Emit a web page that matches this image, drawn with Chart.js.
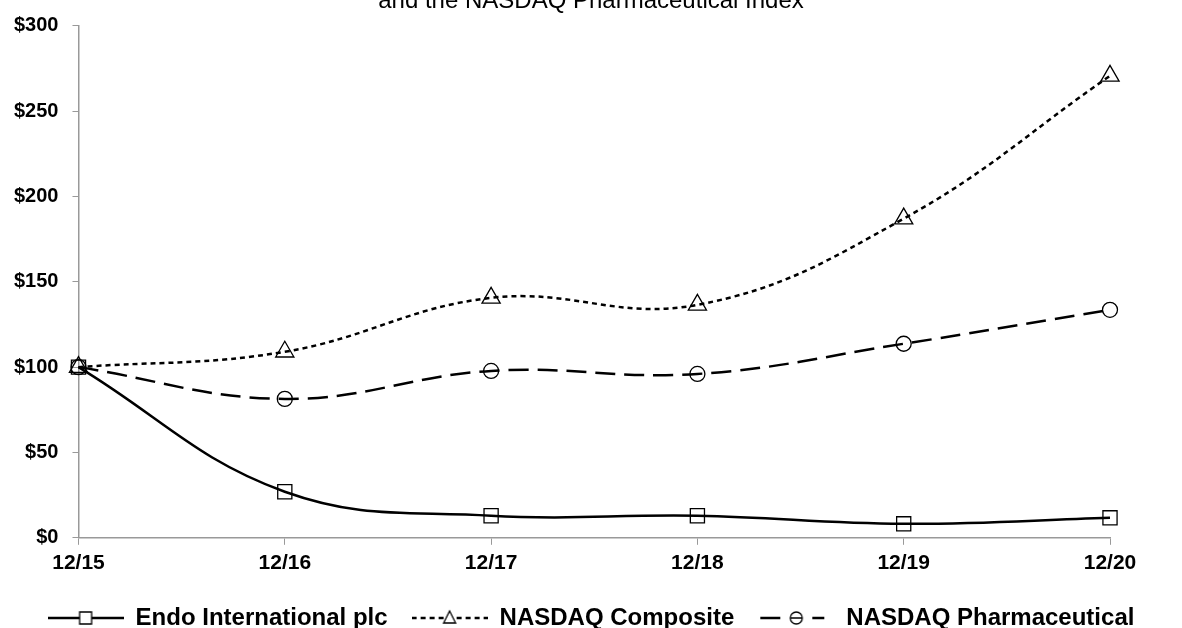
<!DOCTYPE html>
<html>
<head>
<meta charset="utf-8">
<script src="https://cdn.jsdelivr.net/npm/chart.js@4/dist/chart.umd.min.js"></script>
<style>
  html, body { margin: 0; padding: 0; background: #fff; }
  #wrap { position: relative; width: 1182px; height: 628px; overflow: hidden; }
  #chart { position: absolute; left: 0; top: -13px; }
</style>
</head>
<body>
<div id="wrap"><canvas id="chart" width="1182" height="653"></canvas></div>
<script>
// ===== Datos =====
const periods = ['12/15', '12/16', '12/17', '12/18', '12/19', '12/20'];
const endo = [100, 27, 12.9, 12.9, 8.2, 11.7];
const composite = [100, 109, 140.6, 136.5, 187, 270.7];
const pharma = [100, 81.4, 97.8, 96, 113.7, 133.6];
const seriesNames = ['Endo International plc', 'NASDAQ Composite', 'NASDAQ Pharmaceutical'];

// muestra de leyenda: linea + marcador
function legendSample(kind) {
  const c = document.createElement('canvas');
  c.width = 76; c.height = 20;
  const g = c.getContext('2d');
  g.strokeStyle = '#000';
  g.lineWidth = 2.5;
  g.beginPath();
  if (kind === 'solid') { g.moveTo(0, 10); g.lineTo(76, 10); }
  if (kind === 'short') { g.setLineDash([5, 4]); g.moveTo(0, 10); g.lineTo(76, 10); }
  if (kind === 'long') { g.moveTo(2, 10); g.lineTo(22, 10); g.moveTo(54, 10); g.lineTo(66, 10); }
  g.stroke();
  g.setLineDash([]);
  g.lineWidth = 1.3;
  g.beginPath();
  if (kind === 'solid') g.rect(32, 4, 12, 12);
  if (kind === 'short') { g.moveTo(38, 3); g.lineTo(44, 15); g.lineTo(32, 15); g.closePath(); }
  if (kind === 'long') { g.arc(38, 10, 6, 0, Math.PI * 2); g.moveTo(32, 10); g.lineTo(44, 10); }
  g.fillStyle = '#fff';
  g.fill();
  g.stroke();
  return c;
}
const samples = [legendSample('solid'), legendSample('short'), legendSample('long')];

new Chart(document.getElementById('chart').getContext('2d'), {
  type: 'line',
  data: {
    labels: periods,
    datasets: [
      { label: seriesNames[0], data: endo, borderColor: '#000', borderWidth: 2.5, tension: 0.4,
        pointStyle: 'rect', pointRadius: 10, pointBorderWidth: 1.3, pointBorderColor: '#000', pointBackgroundColor: 'transparent' },
      { label: seriesNames[1], data: composite, borderColor: '#000', borderWidth: 2.5, borderDash: [5, 4], tension: 0.4,
        pointStyle: 'triangle', pointRadius: 10.5, pointBorderWidth: 1.3, pointBorderColor: '#000', pointBackgroundColor: 'transparent' },
      { label: seriesNames[2], data: pharma, borderColor: '#000', borderWidth: 2.5, borderDash: [20, 9], tension: 0.4,
        pointStyle: 'circle', pointRadius: 7.5, pointBorderWidth: 1.3, pointBorderColor: '#000', pointBackgroundColor: 'transparent' }
    ]
  },
  options: {
    responsive: false,
    animation: false,
    layout: { padding: { left: 0, right: 0, top: 0, bottom: 0 } },
    plugins: {
      title: { display: true, text: 'and the NASDAQ Pharmaceutical Index', color: '#000',
        font: { family: 'Liberation Sans, Arial', size: 24, weight: 'normal' }, padding: { top: 0, bottom: 10 } },
      legend: {
        position: 'bottom',
        labels: {
          color: '#000',
          font: { family: 'Liberation Sans, Arial', size: 24, weight: 'bold' },
          usePointStyle: true,
          pointStyleWidth: 76,
          padding: 24,
          generateLabels: chart => chart.data.datasets.map((d, i) => ({
            text: d.label, pointStyle: samples[i], datasetIndex: i, lineWidth: 0,
            strokeStyle: 'transparent', fillStyle: 'transparent', fontColor: '#000'
          }))
        }
      },
      tooltip: { enabled: false }
    },
    scales: {
      x: {
        offset: false,
        grid: { drawOnChartArea: false, drawTicks: true, tickLength: 7, color: '#999' },
        border: { display: true, color: '#999', width: 1.5 },
        ticks: { color: '#000', padding: 6, maxRotation: 0, font: { family: 'Liberation Sans, Arial', size: 21, weight: 'bold' } }
      },
      y: {
        min: 0, max: 300,
        grid: { drawOnChartArea: false, drawTicks: true, tickLength: 6, color: '#999' },
        border: { display: true, color: '#999', width: 1.5 },
        ticks: { stepSize: 50, color: '#000', padding: 14, callback: v => '$' + v,
          font: { family: 'Liberation Sans, Arial', size: 20, weight: 'bold' } }
      },
      y2: {
        position: 'right',
        grid: { display: false },
        border: { display: false },
        ticks: { display: false },
        afterFit: s => { s.width = 72; }
      }
    }
  }
});
</script>
</body>
</html>
